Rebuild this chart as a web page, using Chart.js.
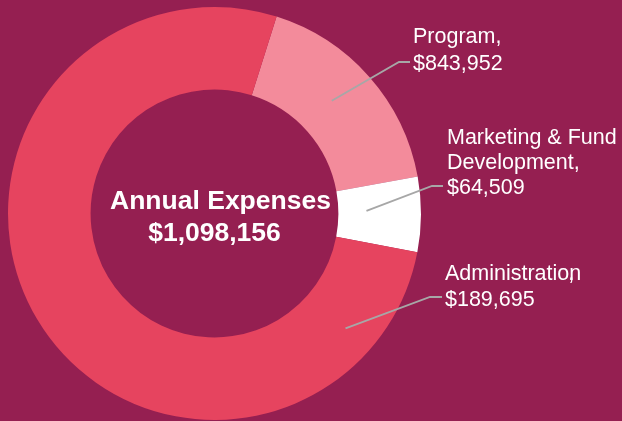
<!DOCTYPE html>
<html>
<head>
<meta charset="utf-8">
<script src="https://cdn.jsdelivr.net/npm/chart.js@4"></script>
<style>
    html, body { margin: 0; padding: 0; background: #951f51; }
    #wrap { width: 622px; height: 421px; position: relative; }
</style>
</head>
<body>
<div id="wrap"><canvas id="expenseChart"></canvas></div>
<script>
// Slices, clockwise from the top-right (as drawn in the source graphic)
const categories = ['Administration', 'Marketing & Fund Development', 'Program'];
const amounts = [189695, 64509, 843952];
const totalLabel = 'Annual Expenses';
const totalAmount = 1098156;

// Callout text shown next to each slice in the source (Program / Administration are swapped there)
const calloutText = [
    ['Program,', '$843,952'],
    ['Marketing & Fund', 'Development,', '$64,509'],
    ['Administration', '$189,695']
];

const sliceColors = ['#f38b9b', '#ffffff', '#e6445f'];

// where each leader line starts inside its slice, and where its text sits
const calloutLayout = [
    { along: 0.46, depth: 0.47, elbow: [399, 62], end: [410, 62], textX: 413, baseline: 43, lineH: 26.5 },
    { along: 0.44, depth: 0.34, elbow: [432, 186], end: [443, 186], textX: 447, baseline: 143.5, lineH: 25 },
    { along: 0.11, depth: 0.61, elbow: [430, 297], end: [442, 297], textX: 445, baseline: 279.5, lineH: 26 }
];

const money = v => '$' + v.toLocaleString('en-US');

const calloutPlugin = {
    id: 'callouts',
    afterDatasetsDraw(chart) {
        const ctx = chart.ctx;
        const arcs = chart.getDatasetMeta(0).data;
        ctx.save();

        arcs.forEach((arc, i) => {
            const p = arc.getProps(['x', 'y', 'startAngle', 'endAngle', 'innerRadius', 'outerRadius'], true);
            const lay = calloutLayout[i];
            const a = p.startAngle + (p.endAngle - p.startAngle) * lay.along;
            const r = p.innerRadius + (p.outerRadius - p.innerRadius) * lay.depth;
            const sx = p.x + Math.cos(a) * r;
            const sy = p.y + Math.sin(a) * r;

            ctx.strokeStyle = '#a7a7a7';
            ctx.lineWidth = 1.8;
            ctx.beginPath();
            ctx.moveTo(sx, sy);
            ctx.lineTo(lay.elbow[0], lay.elbow[1]);
            ctx.lineTo(lay.end[0], lay.end[1]);
            ctx.stroke();

            ctx.fillStyle = '#ffffff';
            ctx.font = '21.5px "Liberation Sans", Arial, sans-serif';
            ctx.textAlign = 'left';
            ctx.textBaseline = 'alphabetic';
            calloutText[i].forEach((line, k) => {
                ctx.fillText(line, lay.textX, lay.baseline + k * lay.lineH);
            });
            // the source has its comma slipped under the last letter
            if (i === 2) {
                const w = ctx.measureText('Administratio').width;
                ctx.fillText(',', lay.textX + w - 1, lay.baseline);
            }
        });

        // centre total
        const c = arcs[0].getProps(['x', 'y'], true);
        ctx.font = 'bold 26.5px "Liberation Sans", Arial, sans-serif';
        ctx.textAlign = 'center';
        ctx.fillText(totalLabel, c.x + 6, 208.5);
        ctx.fillText(money(totalAmount), c.x, 240.5);
        ctx.restore();
    }
};

new Chart(document.getElementById('expenseChart'), {
    type: 'doughnut',
    data: {
        labels: categories,
        datasets: [{
            data: amounts,
            backgroundColor: sliceColors,
            borderWidth: 0,
            hoverOffset: 0
        }]
    },
    options: {
        responsive: true,
        maintainAspectRatio: false,
        animation: false,
        rotation: 17.5,
        cutout: '60%',
        layout: { padding: { left: 8, top: 7, right: 201, bottom: 1 } },
        plugins: {
            legend: { display: false },
            tooltip: { enabled: false }
        }
    },
    plugins: [calloutPlugin]
});
</script>
</body>
</html>
